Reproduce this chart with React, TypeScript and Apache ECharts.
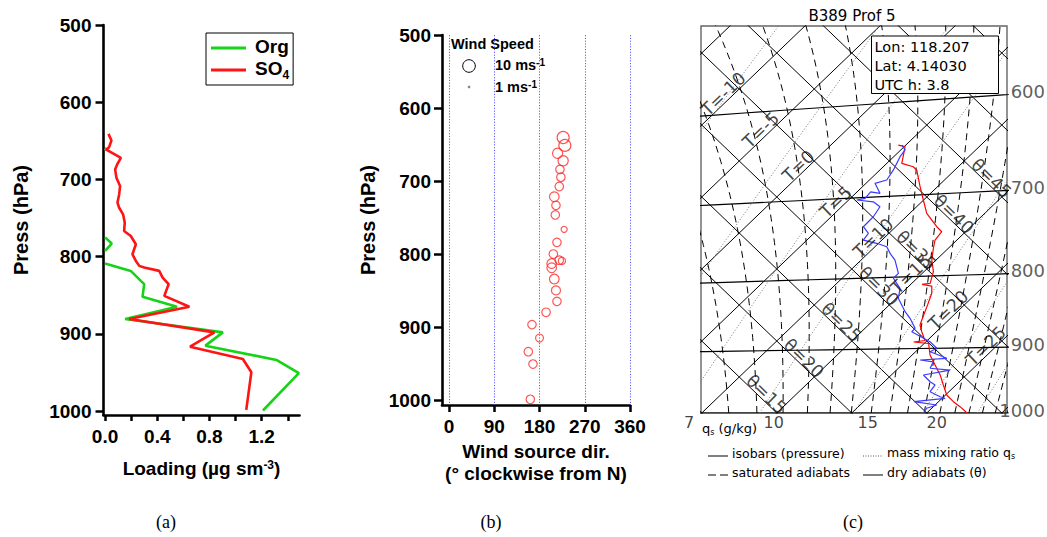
import React, { useEffect, useRef } from "react";
import * as echarts from "echarts";

// ================= Panel (a): aerosol loading profiles =================
const pressTicks = [500, 600, 700, 800, 900, 1000];
const loadingTicks = [0, 0.2, 0.4, 0.6, 0.8, 1.0, 1.2, 1.4];
const loadingLabels = [0, 0.4, 0.8, 1.2];
const so4Pressure = [641, 649.6, 658.2, 661.3, 672, 679.8, 687, 697.8, 708.6, 719.4, 730.1, 736.6, 745.2, 756, 766.7, 773.2, 783.9, 796.9, 805.5, 811.9, 814.1, 818.4, 827, 835.6, 850.7, 864.9, 880.8, 898, 916.5, 932.5, 949.7, 998.3];
const so4Loading = [0.026, 0.049, 0.031, 0.01, 0.121, 0.095, 0.077, 0.087, 0.115, 0.108, 0.095, 0.108, 0.138, 0.151, 0.146, 0.197, 0.236, 0.21, 0.236, 0.262, 0.3, 0.415, 0.441, 0.487, 0.454, 0.646, 0.185, 0.838, 0.651, 1.056, 1.121, 1.082];
const orgPressure = [659, 662.5, 720, 775, 783, 792.6, 800, 808.9, 818.4, 831.3, 835.6, 852, 864.9, 880.8, 898, 915.2, 933.7, 950.9, 999.2];
const orgLoading = [0.012, 0, null, 0, 0.051, 0, null, 0, 0.197, 0.274, 0.3, 0.287, 0.551, 0.154, 0.903, 0.769, 1.313, 1.485, 1.21];

// ================= Panel (b): wind =================
const dirTicks = [0, 90, 180, 270, 360];
const windPressure = [640.4, 651.2, 662, 672.3, 684, 694.8, 707.5, 721.6, 733.3, 746.5, 766.2, 784, 800, 808.5, 809.4, 813.1, 818.8, 834.3, 849.8, 864.8, 879.8, 896.7, 915, 933.8, 950.7, 999];
const windDirection = [227, 230.4, 216, 227, 220.6, 222.5, 219.3, 209.4, 212.7, 211.4, 229, 214.7, 207.5, 219.3, 224.5, 204.2, 204.2, 209.4, 212.7, 214.7, 193, 165, 180, 157.7, 167, 161.7];
const windSpeed = [9.5, 9.5, 8, 8, 6.5, 6.5, 6.5, 7.5, 6.5, 6.5, 4.5, 6.5, 6.5, 6.5, 5.5, 7.5, 7.5, 7.5, 7, 6.5, 6.5, 6.5, 6, 6.5, 6.5, 6.5];
const windLegendSpeeds = [10, 1];

// ================= Panel (c): thermodynamic diagram =================
const tempPressure = [643.9, 646.0, 663.8, 668.2, 672.0, 690.8, 706.2, 721.9, 738.4, 744.7, 754.5, 764.6, 779.3, 794.4, 809.5, 810.7, 813.2, 822.8, 838.4, 859.1, 866.1, 875.7, 888.5, 890.4, 892.9, 909.8, 924.8, 940.0, 955.5, 971.2, 981.8, 989.8, 999.5];
const temperature = [4.5, 5.06, 6.0, 7.0, 7.46, 8.84, 9.98, 11.13, 12.73, 13.41, 13.54, 14.0, 14.71, 15.63, 16.22, 15.76, 16.52, 17.02, 17.55, 18.21, 18.44, 19.02, 19.85, 19.2, 20.3, 21.19, 22.22, 23.25, 24.16, 25.08, 25.99, 26.78, 27.65];
const dewPressure = [644.0, 649.5, 656.4, 670.5, 681.3, 684.4, 696.1, 693.8, 701.0, 702.5, 705.5, 711.7, 723.2, 734.7, 743.0, 751.1, 755.8, 760.6, 769.1, 777.8, 795.1, 801.4, 815.0, 828.4, 847.0, 856.4, 870.7, 875.5, 890.4, 900.0, 905.0, 915.0, 917.1, 920.0, 929.7, 932.7, 939.9, 950.3, 955.4, 965.9, 973.9, 976.4, 981.7, 987.1, 992.3, 1000];
const dewpoint = [4.72, 5.29, 5.42, 5.9, 6.15, 5.6, 6.63, 5.9, 5.98, 5.54, 6.77, 7.56, 7.81, 7.84, 8.63, 8.76, 9.88, 10.79, 11.47, 12.26, 13.41, 13.42, 14.56, 15.14, 16.52, 17.31, 18.34, 18.36, 20.27, 21.17, 20.97, 22.54, 20.88, 21.88, 22.12, 23.57, 22.14, 23.05, 23.61, 23.74, 24.76, 25.2, 23.36, 25.11, 24.67, 24.77];
const isobarLevels = [600, 700, 800, 900, 1000];
const isothermLevels = [-25, -20, -15, -10, -5, 0, 5, 10, 15, 20, 25, 30, 35];
const dryAdiabatLevels = [0, 5, 10, 15, 20, 25, 30, 35, 40, 45, 50, 55, 60, 65];
const satAdiabatThetaE = [262.5, 267.5, 272.5, 277.5, 282.5, 287.5, 292.5, 297.5, 302.5, 307.5, 312.5, 317.5, 322.5, 327.5, 332.5, 337.5, 342.5, 347.5, 352.5, 357.5, 362.5, 367.5, 372.5, 377.5, 382.5, 387.5, 392.5];
const mixingRatios = [1, 2, 3, 5, 7, 10, 15, 20, 25];
const mixingRatioLabels = [7, 10, 15, 20];
const isothermLabels = [-10, -5, 0, 5, 10, 15, 20, 25];
const thetaLabels = [15, 20, 25, 30, 35, 40, 45];
const stationInfo = ["Lon: 118.207", "Lat: 4.14030", "UTC h: 3.8"];

// ---------------- helpers ----------------
const LBL = "'Liberation Sans', Arial, Helvetica, sans-serif";
const THIN = "'DejaVu Sans', 'Liberation Sans', sans-serif";
const SERIF = "'Liberation Serif', 'Times New Roman', serif";
const KAPPA = 0.2857;
const XMIN_C = 19.9, XMAX_C = 60.7, YMAX_C = 53.75;

const thetaC = (T: number, p: number) => (T + 273.15) * Math.pow(1000 / p, KAPPA) - 273.15;
const diagTT = (T: number, th: number) => [T + th, th - T];
const diagTP = (T: number, p: number) => diagTT(T, thetaC(T, p));
const esat = (T: number) => 6.112 * Math.exp((17.67 * T) / (T + 243.5));
const tempFromEs = (e: number) => {
  const L = Math.log(e / 6.112);
  return (243.5 * L) / (17.67 - L);
};
function thetaE(T: number, p: number) {
  const e = esat(T);
  const q = (0.622 * e) / Math.max(p - e, 1);
  const Tk = T + 273.15;
  return Tk * Math.pow(1000 / p, KAPPA) * Math.exp((2.5e6 * q) / (1005 * Tk));
}
function satT(target: number, p: number) {
  let lo = -110, hi = 50;
  for (let i = 0; i < 60; i++) {
    const mid = (lo + hi) / 2;
    if (thetaE(mid, p) > target) hi = mid; else lo = mid;
  }
  return (lo + hi) / 2;
}
const levels = (from: number, to: number, step: number) => {
  const out: number[] = [];
  for (let p = from; p >= to; p -= step) out.push(p);
  return out;
};
const windSize = (v: number) => 2 + 1.18 * (v - 1);

function buildOption() {
  const so4Data = so4Pressure.map((p, i) => [so4Loading[i], p]);
  const orgData = orgPressure.map((p, i) => [orgLoading[i], p]);
  const windData = windPressure.map((p, i) => [windDirection[i], p, windSpeed[i]]);

  const pLevels = levels(1000, 450, 10);
  const gap = [null, null];

  const isothermData: any[] = [];
  isothermLevels.forEach((T) => isothermData.push(diagTT(T, -40), diagTT(T, 110), gap));
  const adiabatData: any[] = [];
  dryAdiabatLevels.forEach((th) => adiabatData.push(diagTT(-80, th), diagTT(60, th), gap));
  const isobarData: any[] = [];
  isobarLevels.forEach((p) => {
    for (let T = -60; T <= 60; T += 2) isobarData.push(diagTP(T, p));
    isobarData.push(gap);
  });
  const satData: any[] = [];
  satAdiabatThetaE.forEach((te) => {
    pLevels.forEach((p) => satData.push(diagTP(satT(te, p), p)));
    satData.push(gap);
  });
  const mixData: any[] = [];
  mixingRatios.forEach((q) => {
    pLevels.forEach((p) => mixData.push(diagTP(tempFromEs((q * p) / (622 + q)), p)));
    mixData.push(gap);
  });
  const tData = tempPressure.map((p, i) => diagTP(temperature[i], p));
  const tdData = dewPressure.map((p, i) => diagTP(dewpoint[i], p));

  const cLine = (name: string, data: any[], style: any, z = 2) => ({
    name, type: "line", xAxisIndex: 2, yAxisIndex: 2, data, symbol: "none", silent: true,
    clip: true, connectNulls: false, lineStyle: style, z, animation: false,
  });
  const cText = (name: string, data: any[], label: any) => ({
    name, type: "scatter", xAxisIndex: 2, yAxisIndex: 2, symbolSize: 1, silent: true, clip: false,
    itemStyle: { color: "rgba(0,0,0,0)" }, z: 6, data,
    label: Object.assign({ show: true, position: "inside", fontFamily: THIN, color: "#000" }, label),
  });

  const isobarLabelData = isobarLevels.map((p) => {
    const c = Math.pow(1000 / p, KAPPA);
    const S = (XMAX_C + 546.3) / (c + 1);
    return { value: [XMAX_C, (c - 1) * S], label: { formatter: String(p) } };
  });
  const qLabelData = mixingRatioLabels.map((q) => {
    const T = tempFromEs((q * 1000) / (622 + q));
    return { value: [2 * T, 0], label: { formatter: String(q) } };
  });

  const axisLineStyle = { color: "#000", width: 2.6 };
  const tickLabel = { fontFamily: LBL, fontWeight: "bold", fontSize: 19, color: "#000" };
  const supRich = {
    a: { fontFamily: LBL, fontWeight: "bold", fontSize: 19, color: "#000", lineHeight: 19, verticalAlign: "bottom" },
    sup: { fontFamily: LBL, fontWeight: "bold", fontSize: 12, color: "#000", lineHeight: 12, verticalAlign: "top", padding: [0, 0, 14, 0] },
  };
  const msRich = {
    m: { fontFamily: LBL, fontWeight: "bold", fontSize: 14.5, lineHeight: 15, verticalAlign: "bottom", fill: "#000" },
    s: { fontFamily: LBL, fontWeight: "bold", fontSize: 10, lineHeight: 10, verticalAlign: "top", padding: [0, 0, 10, 0], fill: "#000" },
  };

  const graphic: any[] = [
    // panel (b) wind-speed key
    { type: "text", x: 451, y: 44, style: { text: "Wind Speed", fontFamily: LBL, fontWeight: "bold", fontSize: 14.5, fill: "#000", verticalAlign: "middle" } },
    { type: "circle", shape: { cx: 469, cy: 66, r: windSize(windLegendSpeeds[0]) / 2 }, style: { fill: "none", stroke: "#000", lineWidth: 1 } },
    { type: "circle", shape: { cx: 469, cy: 87, r: windSize(windLegendSpeeds[1]) / 2 }, style: { fill: "#777", stroke: "#777", lineWidth: 0.5 } },
    { type: "text", x: 495, y: 65, style: { text: `{m|${windLegendSpeeds[0]} ms}{s|-1}`, verticalAlign: "middle", rich: msRich } },
    { type: "text", x: 495, y: 87, style: { text: `{m|${windLegendSpeeds[1]} ms}{s|-1}`, verticalAlign: "middle", rich: msRich } },
    // panel (c) title and info box
    { type: "text", x: 852, y: 15.5, style: { text: "B389 Prof 5", fontFamily: THIN, fontSize: 15, fill: "#000", align: "center", verticalAlign: "middle" } },
    { type: "rect", z: 100, shape: { x: 871.5, y: 36, width: 127, height: 57.5 }, style: { fill: "#fff", stroke: "#000", lineWidth: 1 } },
    ...stationInfo.map((t, i) => ({ type: "text", z: 101, x: 874.5, y: 47 + i * 19, style: { text: t, fontFamily: THIN, fontSize: 14.5, fill: "#000", verticalAlign: "middle" } })),
    // panel (c) key
    {
      type: "text", x: 702, y: 429,
      style: { text: "{q|q}{s|s}{q| (g/kg)}", verticalAlign: "middle",
        rich: { q: { fontFamily: THIN, fontSize: 13, lineHeight: 14, verticalAlign: "top", fill: "#000" }, s: { fontFamily: THIN, fontSize: 8, lineHeight: 8, verticalAlign: "bottom", fill: "#000" } } },
    },
    { type: "line", shape: { x1: 708, y1: 456, x2: 728, y2: 456 }, style: { stroke: "#000", lineWidth: 1 } },
    { type: "text", x: 732, y: 453, style: { text: "isobars (pressure)", fontFamily: THIN, fontSize: 12.5, fill: "#000", verticalAlign: "middle" } },
    { type: "line", shape: { x1: 863, y1: 456, x2: 883, y2: 456 }, style: { stroke: "#555", lineWidth: 1, lineDash: [1, 1.5] } },
    {
      type: "text", x: 887, y: 453,
      style: { text: "{q|mass mixing ratio q}{s|s}", verticalAlign: "middle",
        rich: { q: { fontFamily: THIN, fontSize: 12.5, lineHeight: 14, verticalAlign: "top", fill: "#000" }, s: { fontFamily: THIN, fontSize: 8, lineHeight: 8, verticalAlign: "bottom", fill: "#000" } } },
    },
    { type: "line", shape: { x1: 708, y1: 475, x2: 728, y2: 475 }, style: { stroke: "#000", lineWidth: 1, lineDash: [8, 4] } },
    { type: "text", x: 732, y: 472, style: { text: "saturated adiabats", fontFamily: THIN, fontSize: 12.5, fill: "#000", verticalAlign: "middle" } },
    { type: "line", shape: { x1: 863, y1: 475, x2: 883, y2: 475 }, style: { stroke: "#000", lineWidth: 1 } },
    { type: "text", x: 887, y: 472, style: { text: "dry adiabats (θ)", fontFamily: THIN, fontSize: 12.5, fill: "#000", verticalAlign: "middle" } },
    // captions
    ...[["(a)", 166], ["(b)", 491], ["(c)", 853]].map(([t, x]) => ({
      type: "text", x, y: 522, style: { text: t, fontFamily: SERIF, fontSize: 18, fill: "#000", align: "center", verticalAlign: "middle" },
    })),
  ];

  return {
    animation: false,
    backgroundColor: "#fff",
    textStyle: { fontFamily: LBL },
    legend: {
      data: [{ name: "Org", icon: "rect" }, { name: "SO4", icon: "rect" }],
      left: 206, top: 33, orient: "vertical", itemGap: 3, itemWidth: 35, itemHeight: 3,
      padding: [4, 4, 4, 5], borderColor: "#000", borderWidth: 1, selectedMode: false,
      formatter: (n: string) => (n === "SO4" ? "{a|SO}{b|4}" : `{a|${n}}`),
      textStyle: {
        fontFamily: LBL, fontWeight: "bold", fontSize: 19, color: "#000",
        rich: {
          a: { fontFamily: LBL, fontWeight: "bold", fontSize: 19, lineHeight: 22, verticalAlign: "top", padding: [0, 0, 0, 4] },
          b: { fontFamily: LBL, fontWeight: "bold", fontSize: 12, lineHeight: 12, verticalAlign: "bottom", padding: [10, 0, 0, 0] },
        },
      },
    },
    grid: [
      { left: 103.5, top: 25, width: 196, height: 390 },
      { left: 442, top: 35, width: 188, height: 370 },
      { left: 701, top: 26, width: 306, height: 387, show: true, borderColor: "#666", borderWidth: 1.4, backgroundColor: "transparent" },
    ],
    xAxis: [
      {
        type: "value", gridIndex: 0, min: -0.012, max: 1.49,
        axisLine: { onZero: false, lineStyle: axisLineStyle },
        axisTick: { customValues: loadingTicks, length: 6, lineStyle: { width: 2.5, color: "#000" } },
        axisLabel: Object.assign({ customValues: loadingLabels, margin: 12, formatter: (v: number) => v.toFixed(1) }, tickLabel),
        splitLine: { show: false },
        name: "{a|Loading (µg sm}{sup|-3}{a|)}", nameLocation: "middle", nameGap: 44,
        nameTextStyle: { rich: supRich },
      },
      {
        type: "value", gridIndex: 1, min: -14, max: 360,
        axisLine: { onZero: false, lineStyle: axisLineStyle },
        axisTick: { customValues: dirTicks, length: 7, lineStyle: { width: 2.5, color: "#000" } },
        axisLabel: Object.assign({ customValues: dirTicks, margin: 12, formatter: (v: number) => String(v) }, tickLabel),
        splitLine: { show: false },
        name: "Wind source dir.\n(° clockwise from N)", nameLocation: "middle", nameGap: 35,
        nameTextStyle: { fontFamily: LBL, fontWeight: "bold", fontSize: 19, color: "#000", lineHeight: 22 },
      },
      { type: "value", gridIndex: 2, min: XMIN_C, max: XMAX_C, show: false },
    ],
    yAxis: [
      {
        type: "value", gridIndex: 0, inverse: true, min: 500, max: 1005,
        axisLine: { onZero: false, lineStyle: axisLineStyle },
        axisTick: { customValues: pressTicks, length: 8, lineStyle: { width: 2.5, color: "#000" } },
        axisLabel: Object.assign({ customValues: pressTicks, margin: 12, formatter: (v: number) => String(v) }, tickLabel),
        splitLine: { show: false },
        name: "Press (hPa)", nameLocation: "middle", nameRotate: 90, nameGap: 73,
        nameTextStyle: { fontFamily: LBL, fontWeight: "bold", fontSize: 20, color: "#000" },
      },
      {
        type: "value", gridIndex: 1, inverse: true, min: 500, max: 1006.8,
        axisLine: { onZero: false, lineStyle: axisLineStyle },
        axisTick: { customValues: pressTicks, length: 8, lineStyle: { width: 2.5, color: "#000" } },
        axisLabel: Object.assign({ customValues: pressTicks, margin: 11, formatter: (v: number) => String(v) }, tickLabel),
        splitLine: { show: false },
        name: "Press (hPa)", nameLocation: "middle", nameRotate: 90, nameGap: 64,
        nameTextStyle: { fontFamily: LBL, fontWeight: "bold", fontSize: 20, color: "#000" },
      },
      { type: "value", gridIndex: 2, min: 0, max: YMAX_C, show: false },
    ],
    series: [
      { name: "Org", type: "line", xAxisIndex: 0, yAxisIndex: 0, data: orgData, symbol: "none", color: "#17d317", lineStyle: { width: 2.6, color: "#17d317" }, connectNulls: false, clip: true },
      { name: "SO4", type: "line", xAxisIndex: 0, yAxisIndex: 0, data: so4Data, symbol: "none", color: "#ff1414", lineStyle: { width: 2.6, color: "#ff1414" }, clip: true },
      {
        name: "wind", type: "scatter", xAxisIndex: 1, yAxisIndex: 1, data: windData,
        symbolSize: (v: number[]) => windSize(v[2]),
        itemStyle: { color: "rgba(0,0,0,0)", borderColor: "#ff2b2b", borderWidth: 1.2 },
        markLine: {
          silent: true, symbol: ["none", "none"], label: { show: false },
          lineStyle: { type: [1.2, 1.6], color: "#5c5cff", width: 1 },
          data: dirTicks.map((v) => ({ xAxis: v })),
        },
      },
      cLine("isotherms", isothermData, { color: "#000", width: 1 }),
      cLine("dry adiabats", adiabatData, { color: "#000", width: 1 }),
      cLine("isobars", isobarData, { color: "#000", width: 1.2 }),
      cLine("saturated adiabats", satData, { color: "#000", width: 1, type: [7, 5] }),
      cLine("mixing ratio", mixData, { color: "#777", width: 1, type: [1, 2] }),
      cLine("temperature", tData, { color: "#ff0000", width: 1.2 }, 5),
      cLine("dewpoint", tdData, { color: "#3b3bff", width: 1.2 }, 5),
      cText("isotherm labels", isothermLabels.map((T) => ({ value: diagTT(T - 0.7, 33.6), label: { formatter: `T=${T}`, rotate: 44 } })), { fontSize: 17.5, color: "#111" }),
      cText("theta labels", thetaLabels.map((th) => ({ value: diagTT(13, th + 0.6), label: { formatter: `θ=${th}`, rotate: -44 } })), { fontSize: 17.5, color: "#111" }),
      cText("isobar labels", isobarLabelData, { fontSize: 18, color: "#333", align: "right", offset: [38, -3] }),
      cText("q labels", qLabelData, { fontSize: 16, color: "#111", align: "left", verticalAlign: "top", offset: [4, 1] }),
    ],
    graphic,
  };
}

export default function App() {
  const ref = useRef<HTMLDivElement>(null);
  useEffect(() => {
    const chart = echarts.init(ref.current as HTMLDivElement, null, { renderer: "svg" });
    chart.setOption(buildOption() as any);
    return () => chart.dispose();
  }, []);
  return <div ref={ref} style={{ position: "fixed", left: 0, top: 0, width: 1047, height: 537, background: "#fff" }} />;
}
